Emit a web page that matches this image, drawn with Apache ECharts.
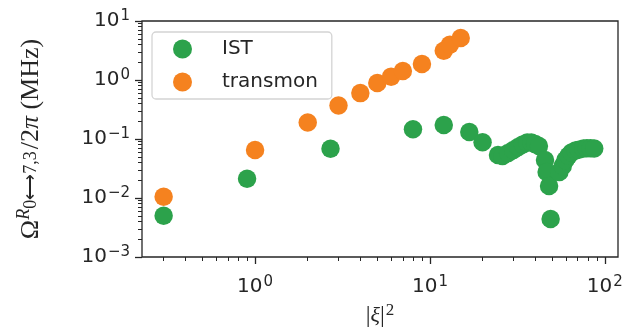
<!DOCTYPE html>
<html>
<head>
<meta charset="utf-8">
<script src="https://cdn.jsdelivr.net/npm/echarts@6/dist/echarts.min.js"></script>
<style>
  html, body { margin: 0; padding: 0; background: #fff; }
  #chart { width: 624px; height: 329px; }
</style>
</head>
<body>
<div id="chart"></div>
<script>
// values
const istX = [0.3, 0.9, 2.7, 8, 12, 16.8, 20, 24.5, 26, 28, 30, 32, 34, 36, 38, 40, 42,
  45.5, 46.5, 48, 49, 55, 57.5, 59.5, 62, 64.5, 68, 71, 75.5, 79, 83, 87]
const istY = [0.005, 0.0212, 0.0685, 0.146, 0.173, 0.131, 0.088, 0.0535, 0.0515, 0.058, 0.065, 0.073, 0.081, 0.087, 0.087, 0.082, 0.076,
  0.044, 0.0276, 0.016, 0.0044, 0.0276, 0.035, 0.044, 0.052, 0.059, 0.064, 0.066, 0.069, 0.07, 0.07, 0.069]
const transmonX = [0.3, 1, 2, 3, 4, 5, 6, 7, 9, 12, 13, 15]
const transmonY = [0.0105, 0.065, 0.19, 0.37, 0.6, 0.89, 1.14, 1.42, 1.87, 3.14, 3.97, 5.15]

const xMajor = [1, 10, 100]
const xMinor = [0.3, 0.4, 0.5, 0.6, 0.7, 0.8, 0.9, 2, 3, 4, 5, 6, 7, 8, 9, 20, 30, 40, 50, 60, 70, 80, 90]
const yMajor = [0.001, 0.01, 0.1, 1, 10]
const yMinor = [0.002, 0.003, 0.004, 0.005, 0.006, 0.007, 0.008, 0.009,
  0.02, 0.03, 0.04, 0.05, 0.06, 0.07, 0.08, 0.09,
  0.2, 0.3, 0.4, 0.5, 0.6, 0.7, 0.8, 0.9,
  2, 3, 4, 5, 6, 7, 8, 9]

const xMin = 0.2256
const xMax = 119

const ink = '#262626'
const green = '#2ca24b'
const orange = '#f5821f'

function powLabel(v) {
  const e = Math.round(Math.log10(v))
  return '{b|10}{s|' + (e < 0 ? '\u2212' + (-e) : e) + '}'
}

const labelRich = {
  b: { fontSize: 20, fontFamily: 'DejaVu Sans', color: ink },
  s: { fontSize: 15, fontFamily: 'DejaVu Sans', color: ink, padding: [0, 0, 9, 1] }
}

const chart = echarts.init(document.getElementById('chart'))
chart.setOption({
  animation: false,
  grid: [
    { left: 142, right: 6, top: 21, bottom: 72, show: true, borderColor: ink, borderWidth: 1.3, outerBoundsMode: 'none' },
    { left: 142, right: 6, top: 21, bottom: 72, outerBoundsMode: 'none' }
  ],
  legend: {
    orient: 'vertical',
    left: 152,
    top: 32,
    padding: [7, 14, 7, 21],
    itemWidth: 19,
    itemHeight: 19,
    itemGap: 13,
    icon: 'circle',
    backgroundColor: 'rgba(255,255,255,0.85)',
    borderColor: '#d4d4d4',
    borderWidth: 1.3,
    borderRadius: 4,
    textStyle: { fontSize: 20, fontFamily: 'DejaVu Sans', color: ink, padding: [0, 0, 0, 25] },
    data: ['IST', 'transmon']
  },
  xAxis: [
    {
      type: 'log', gridIndex: 0, min: xMin, max: xMax,
      name: '{a||}{x|\u03be}{a||}{s|2}', nameLocation: 'middle', nameGap: 45,
      nameTextStyle: {
        rich: {
          a: { fontSize: 24, fontFamily: 'Liberation Serif', color: ink },
          x: { fontSize: 22, fontFamily: 'Liberation Serif', fontStyle: 'italic', color: ink },
          s: { fontSize: 17, fontFamily: 'Liberation Serif', color: ink, padding: [0, 0, 11, 1] }
        }
      },
      axisLine: { show: false },
      splitLine: { show: false },
      axisTick: { customValues: xMajor, length: 7, lineStyle: { color: ink, width: 1.3 } },
      axisLabel: { customValues: xMajor, margin: 18, formatter: powLabel, rich: labelRich }
    },
    {
      type: 'log', gridIndex: 1, min: xMin, max: xMax,
      axisLine: { show: false },
      splitLine: { show: false },
      axisLabel: { show: false },
      axisTick: { customValues: xMinor, length: 4, lineStyle: { color: ink, width: 1 } }
    }
  ],
  yAxis: [
    {
      type: 'log', gridIndex: 0, min: 0.001, max: 10,
      name: '\u03a9{sr|R}{sb|0\u27f77,3}/2{i|\u03c0} (MHz)',
      nameLocation: 'middle', nameGap: 94, nameRotate: 90,
      nameTextStyle: {
        fontSize: 26, fontFamily: 'Liberation Serif', color: ink,
        rich: {
          sr: { fontSize: 18, fontFamily: 'Liberation Serif', fontStyle: 'italic', color: ink, padding: [0, 0, 15, 0] },
          sb: { fontSize: 18, fontFamily: 'Liberation Serif', color: ink, padding: [0, 2, 0, 0] },
          i: { fontSize: 26, fontFamily: 'Liberation Serif', fontStyle: 'italic', color: ink }
        }
      },
      axisLine: { show: false },
      splitLine: { show: false },
      axisTick: { customValues: yMajor, length: 7, lineStyle: { color: ink, width: 1.3 } },
      axisLabel: { customValues: yMajor, margin: 12, formatter: powLabel, rich: labelRich }
    },
    {
      type: 'log', gridIndex: 1, min: 0.001, max: 10,
      axisLine: { show: false },
      splitLine: { show: false },
      axisLabel: { show: false },
      axisTick: { customValues: yMinor, length: 4, lineStyle: { color: ink, width: 1 } }
    }
  ],
  series: [
    {
      name: 'IST', type: 'scatter', xAxisIndex: 0, yAxisIndex: 0,
      symbolSize: 18.5, itemStyle: { color: green, opacity: 1 },
      data: istX.map((x, i) => [x, istY[i]])
    },
    {
      name: 'transmon', type: 'scatter', xAxisIndex: 0, yAxisIndex: 0,
      symbolSize: 18.5, itemStyle: { color: orange, opacity: 1 },
      data: transmonX.map((x, i) => [x, transmonY[i]])
    }
  ]
})
</script>
</body>
</html>
